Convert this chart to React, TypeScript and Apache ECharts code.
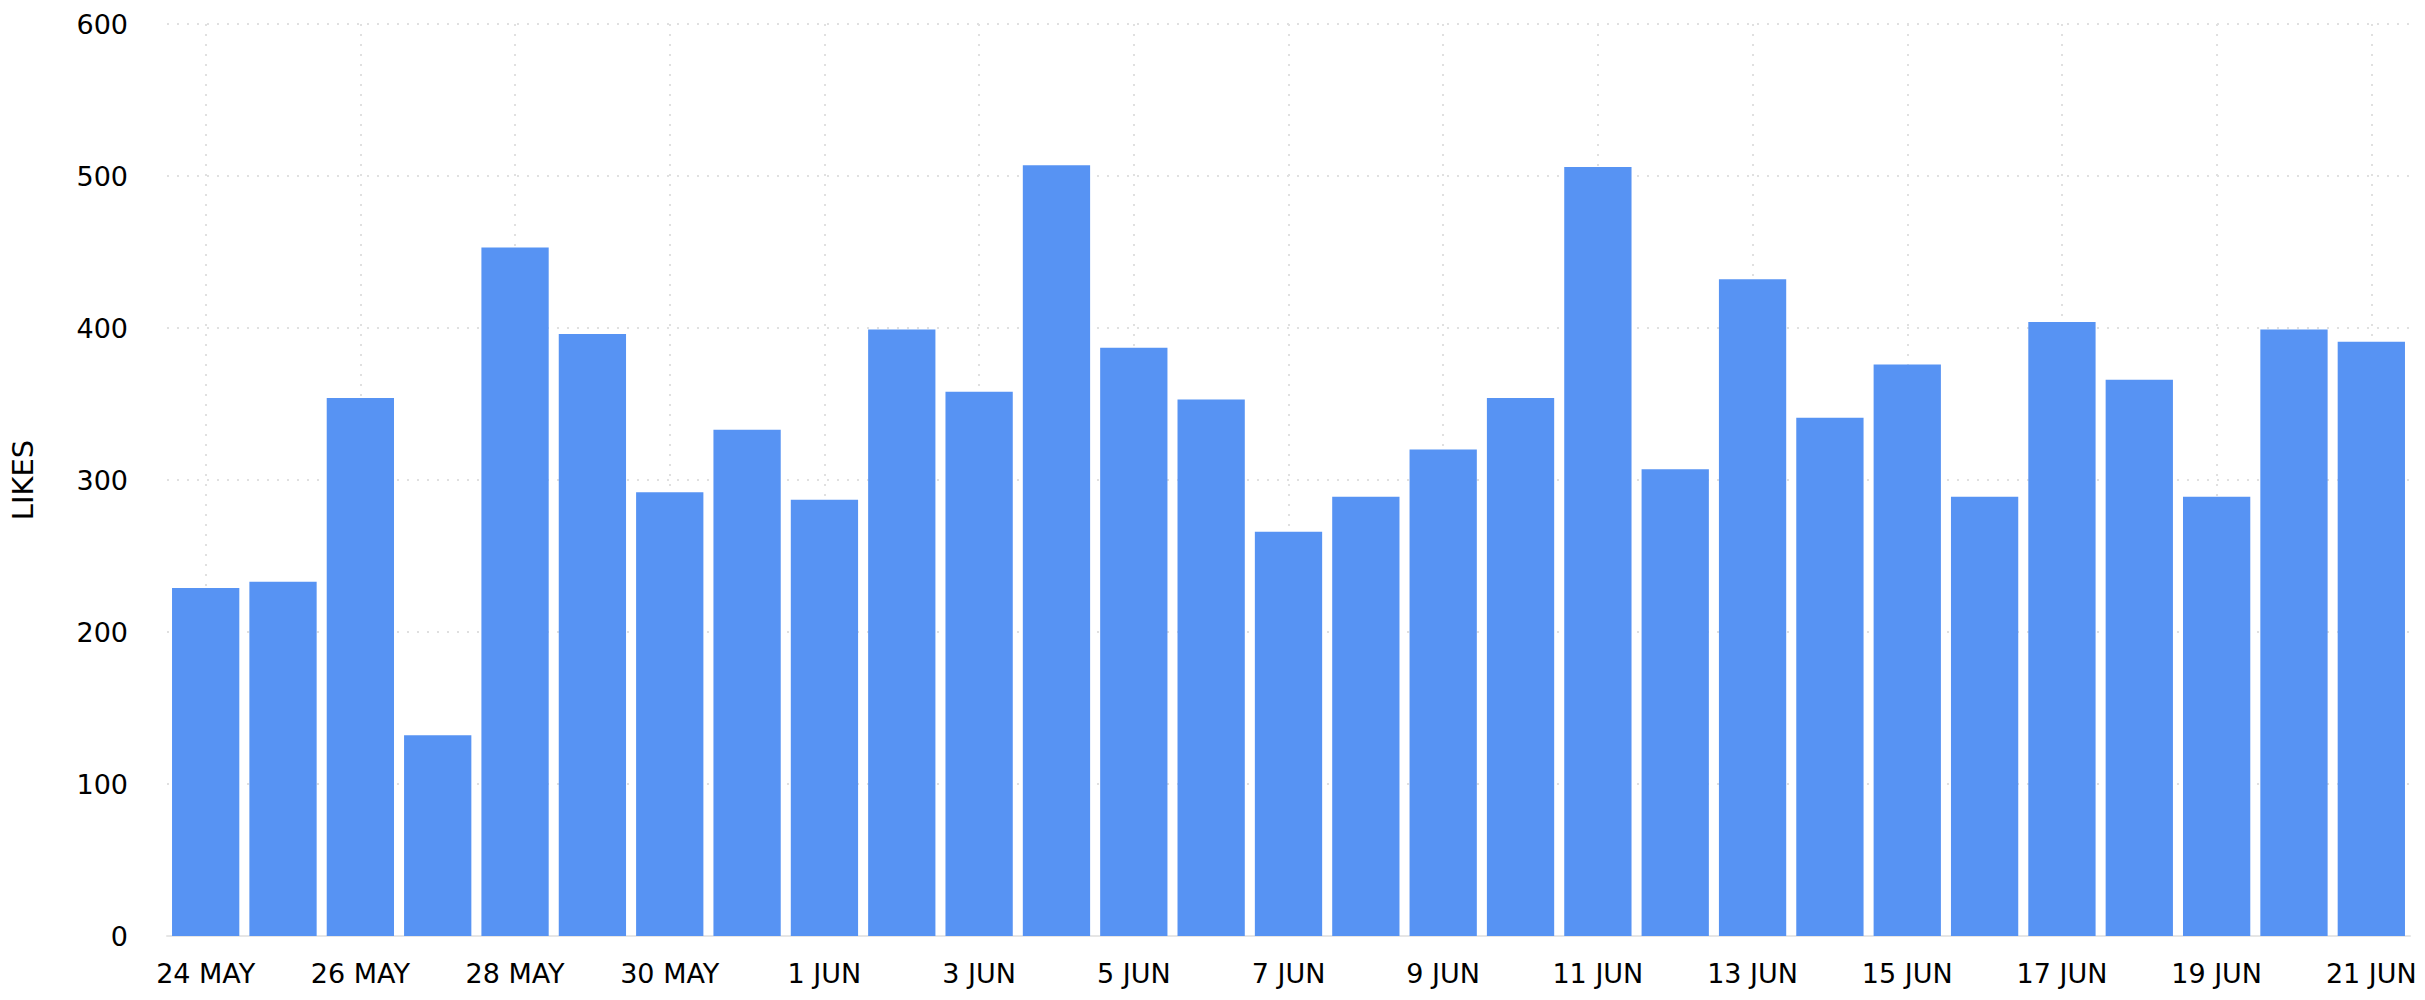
import React, { useEffect, useRef } from 'react'
import * as echarts from 'echarts'

const days = [
  '24 MAY', '25 MAY', '26 MAY', '27 MAY', '28 MAY', '29 MAY', '30 MAY', '31 MAY',
  '1 JUN', '2 JUN', '3 JUN', '4 JUN', '5 JUN', '6 JUN', '7 JUN', '8 JUN', '9 JUN',
  '10 JUN', '11 JUN', '12 JUN', '13 JUN', '14 JUN', '15 JUN', '16 JUN', '17 JUN',
  '18 JUN', '19 JUN', '20 JUN', '21 JUN'
]
const likes = [
  229, 233, 354, 132, 453, 396, 292, 333, 287, 399, 358, 507, 387, 353, 266,
  289, 320, 354, 506, 307, 432, 341, 376, 289, 404, 366, 289, 399, 391
]
const yTicks = [0, 100, 200, 300, 400, 500, 600]

const FONT = 'DejaVu Sans'
const GRID_LINE = { color: '#e0e0e0', width: 2, type: [2, 8] }

export default function App() {
  const chartRef: any = useRef()

  useEffect(() => {
    const myChart = echarts.init(chartRef.current, null, { renderer: 'svg' })
    const option = {
      animation: false,
      grid: { left: 165, right: 15, top: 24, bottom: 64 },
      xAxis: {
        type: 'category',
        data: days,
        axisLine: { lineStyle: { color: '#e6e6e6', width: 2 } },
        axisTick: { alignWithLabel: true, interval: 1, length: 10, lineStyle: { color: '#dddddd', width: 2 } },
        axisLabel: { interval: 1, margin: 24, color: '#000', fontFamily: FONT, fontSize: 27 },
        splitLine: { show: true, interval: 1, alignWithLabel: true, lineStyle: GRID_LINE }
      },
      yAxis: {
        type: 'value',
        min: yTicks[0],
        max: yTicks[yTicks.length - 1],
        interval: 100,
        name: 'LIKES',
        nameLocation: 'middle',
        nameRotate: 90,
        nameGap: 130,
        nameTextStyle: { color: '#000', fontFamily: FONT, fontSize: 29 },
        axisLine: { show: false },
        axisTick: { show: false },
        axisLabel: { margin: 39, color: '#000', fontFamily: FONT, fontSize: 27 },
        splitLine: { show: true, lineStyle: GRID_LINE }
      },
      series: [
        {
          type: 'bar',
          data: likes,
          barCategoryGap: '13%',
          itemStyle: { color: '#5793f3' }
        }
      ]
    }
    myChart.setOption(option)
    return () => {
      myChart.dispose()
    }
  }, [])

  return (
    <div
      ref={chartRef}
      style={{ position: 'absolute', left: 0, top: 0, width: '2425px', height: '1000px', background: '#fff' }}
    />
  )
}
